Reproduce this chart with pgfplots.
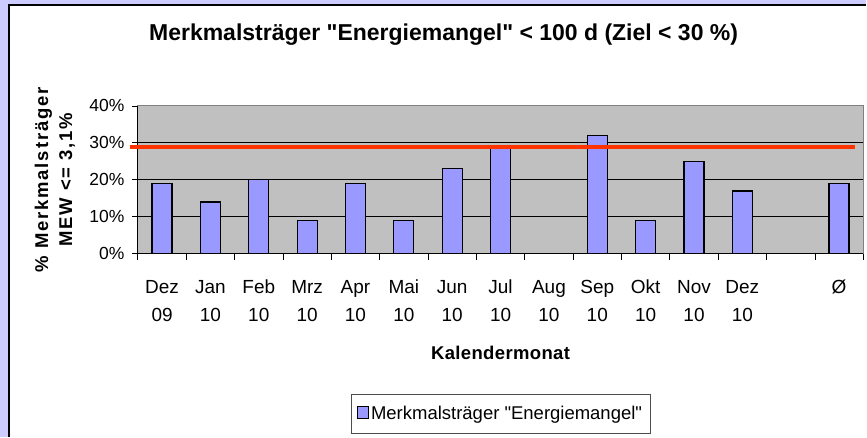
\documentclass[border=0pt]{standalone}
\usepackage{pgfplots}
\pgfplotsset{compat=1.18}
\usepackage{fontspec}
\setmainfont{Liberation Sans}
\newcommand{\qq}{{\XeTeXglyph\XeTeXglyphindex "quotedbl"\relax}}
\definecolor{barcol}{HTML}{9999FF}
\definecolor{plotbg}{HTML}{C0C0C0}
\definecolor{bordergray}{HTML}{808080}
\definecolor{lav}{HTML}{CCCCFF}
\definecolor{target}{HTML}{FF3300}
\begin{document}
\begin{tikzpicture}
\fill[lav] (0pt,0pt) rectangle (867pt,437pt);
\fill[white] (9pt,0pt) rectangle (867pt,432pt);
\draw[black,line width=1.5pt] (9pt,0pt) -- (9pt,432pt) -- (867pt,432pt);
\begin{axis}[
  at={(138pt,183pt)}, anchor=south west,
  scale only axis, width=726pt, height=148pt,
  xmin=-0.5, xmax=14.5, ymin=0, ymax=40,
  clip=false,
  axis background/.style={fill=plotbg, draw=bordergray, line width=1pt},
  axis x line*=bottom, axis y line*=left,
  axis line style={black, line width=1pt, -},
  tick align=outside,
  major tick length=6pt,
  tick style={black, line width=0.8pt},
  ytick={0,10,20,30,40},
  yticklabels={0\%,10\%,20\%,30\%,40\%},
  yticklabel style={font=\fontsize{17.5}{20}\selectfont, xshift=-4pt},
  extra y ticks={10,20,30},
  extra y tick labels={},
  extra y tick style={grid=major},
  major grid style={black, line width=0.8pt},
  xtick={-0.5,0.5,...,14.5},
  xticklabels={},
  extra x ticks={0,1,2,3,4,5,6,7,8,9,10,11,12,13,14},
  extra x tick labels={{\strut Dez\\\strut 09},{\strut Jan\\\strut 10},{\strut Feb\\\strut 10},{\strut Mrz\\\strut 10},{\strut Apr\\\strut 10},{\strut Mai\\\strut 10},{\strut Jun\\\strut 10},{\strut Jul\\\strut 10},{\strut Aug\\\strut 10},{\strut Sep\\\strut 10},{\strut Okt\\\strut 10},{\strut Nov\\\strut 10},{\strut Dez\\\strut 10},{},{\strut Ø\\\strut}},
  extra x tick style={major tick length=0pt, tick label style={align=center, font=\fontsize{19}{28}\selectfont, yshift=-16.5pt}},
  title={Merkmalsträger \qq Energiemangel\qq{} < 100 d (Ziel < 30 \%)},
  title style={at={(0.4215,1.439)}, anchor=center, font=\bfseries\fontsize{23}{27}\selectfont},
  xlabel={Kalendermonat},
  xlabel style={at={(0.5,-0.669)}, anchor=center, font=\bfseries\fontsize{18.5}{22}\selectfont\addfontfeatures{LetterSpace=2}},
  ylabel={\% Merkmalsträger\\MEW <= 3,1\%},
  ylabel style={at={(-0.1143,0.5)}, anchor=center, align=center, font=\bfseries\fontsize{18.5}{24}\selectfont\addfontfeatures{LetterSpace=10}},
  legend style={at={(0.5,-1.081)}, anchor=center, draw=bordergray!60!black, line width=0.8pt, font=\fontsize{18.5}{22}\selectfont, inner xsep=6pt, inner ysep=10pt},
  legend image code/.code={\draw[fill=barcol, draw=black, line width=1pt] (0pt,-4.5pt) rectangle (11pt,7pt);},
]
\addplot[ybar, bar width=20pt, fill=barcol, draw=black, line width=1.2pt]
  coordinates {(0,19) (1,14) (2,20) (3,9) (4,19) (5,9) (6,23) (7,29) (9,32) (10,9) (11,25) (12,17) (14,19)};
\addlegendentry{Merkmalsträger \qq Energiemangel\qq}
\addplot[target, line width=4pt, forget plot] coordinates {(-0.665,29) (14.335,29)};
\end{axis}
\end{tikzpicture}
\end{document}
